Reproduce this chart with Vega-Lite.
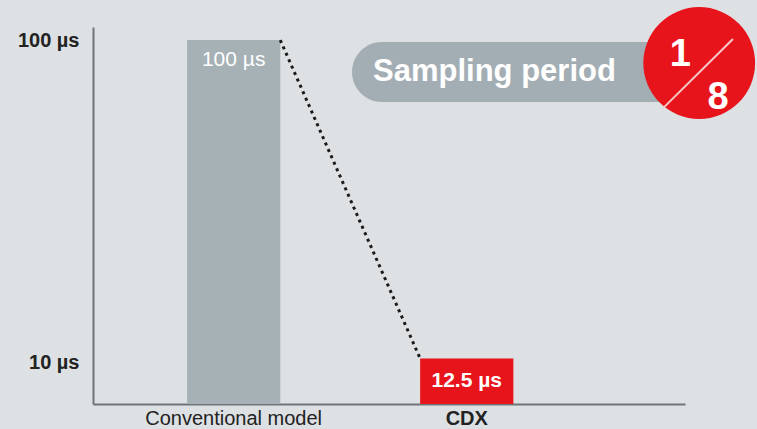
{
  "$schema": "https://vega.github.io/schema/vega-lite/v6.json",
  "width": 592,
  "height": 377,
  "autosize": {"type": "none"},
  "padding": {"left": 93, "top": 27, "right": 72, "bottom": 25},
  "background": "#dde1e3",
  "config": {"view": {"stroke": null}, "font": "Liberation Sans"},
  "datasets": {
    "bars": [
      {"model": "Conventional model", "period": 100, "label": "100 µs"},
      {"model": "CDX", "period": 12.5, "label": "12.5 µs"}
    ],
    "link": [{"from": "Conventional model", "to": "CDX", "start": 100, "end": 12.5}],
    "pill": [{"x0": 4.375, "x1": 10.08, "y0": 83.0, "y1": 99.5, "tx": 4.73, "ty": 91.2, "text": "Sampling period"}],
    "badge": [{"cx": 10.24, "cy": 93.7}],
    "slash": [{"x0": 9.63, "x1": 10.81, "y0": 81.3, "y1": 100.3}],
    "frac": [
      {"n": "1", "x": 9.92, "y": 95.9},
      {"n": "8", "x": 10.56, "y": 84.1}
    ]
  },
  "resolve": {"scale": {"x": "independent"}},
  "layer": [
    {
      "layer": [
        {
          "data": {"name": "bars"},
          "mark": {"type": "bar"},
          "encoding": {
            "x": {
              "field": "model", "type": "nominal", "sort": null,
              "scale": {"domain": ["Conventional model", "CDX"], "paddingInner": 0.6, "paddingOuter": 0.57, "align": 0.354},
              "axis": {
                "title": null, "labelAngle": 0, "ticks": false, "domainColor": "#6f7579", "domainWidth": 2,
                "labelFontSize": 20, "labelColor": "#222222", "labelPadding": 4, "labelLimit": 0,
                "labelFontWeight": {"condition": {"test": "datum.value == 'CDX'", "value": "bold"}, "value": "normal"}
              }
            },
            "y": {
              "field": "period", "type": "quantitative",
              "scale": {"domain": [0, 103.6], "nice": false, "zero": true},
              "axis": {
                "title": null, "ticks": false, "grid": false, "domainColor": "#6f7579", "domainWidth": 2,
                "labelFontSize": 20, "labelFontWeight": "bold", "labelColor": "#222222", "labelPadding": 14,
                "values": [100, 11.5],
                "labelExpr": "datum.value > 50 ? '100 µs' : '10 µs'"
              }
            },
            "color": {
              "field": "model", "type": "nominal",
              "scale": {"domain": ["Conventional model", "CDX"], "range": ["#a6b1b6", "#e8141b"]},
              "legend": null
            }
          }
        },
        {
          "data": {"name": "bars"},
          "transform": [{"filter": "datum.model == 'Conventional model'"}],
          "mark": {"type": "text", "color": "white", "fontSize": 21, "baseline": "middle", "dy": 20},
          "encoding": {
            "x": {"field": "model", "type": "nominal", "sort": null},
            "y": {"field": "period", "type": "quantitative", "scale": {"domain": [0, 103.6], "nice": false}},
            "text": {"field": "label"}
          }
        },
        {
          "data": {"name": "bars"},
          "transform": [{"filter": "datum.model == 'CDX'"}],
          "mark": {"type": "text", "color": "white", "fontSize": 21, "fontWeight": "bold", "baseline": "middle", "dy": 22},
          "encoding": {
            "x": {"field": "model", "type": "nominal", "sort": null},
            "y": {"field": "period", "type": "quantitative", "scale": {"domain": [0, 103.6], "nice": false}},
            "text": {"field": "label"}
          }
        },
        {
          "data": {"name": "link"},
          "mark": {"type": "rule", "color": "#1a1a1a", "strokeWidth": 3, "strokeDash": [3, 4]},
          "encoding": {
            "x": {"field": "from", "type": "nominal", "bandPosition": 1},
            "x2": {"field": "to", "bandPosition": 0},
            "y": {"field": "start", "type": "quantitative", "scale": {"domain": [0, 103.6], "nice": false}},
            "y2": {"field": "end"}
          }
        }
      ]
    },
    {
      "layer": [
        {
          "data": {"name": "pill"},
          "mark": {"type": "bar", "color": "#a3aeb4", "cornerRadius": 30},
          "encoding": {
            "x": {"field": "x0", "type": "quantitative", "scale": {"domain": [0, 10], "nice": false, "zero": false}, "axis": null},
            "x2": {"field": "x1"},
            "y": {"field": "y0", "type": "quantitative", "scale": {"domain": [0, 103.6], "nice": false}},
            "y2": {"field": "y1"}
          }
        },
        {
          "data": {"name": "pill"},
          "mark": {"type": "text", "color": "white", "fontSize": 31, "fontWeight": "bold", "align": "left", "baseline": "middle"},
          "encoding": {
            "x": {"field": "tx", "type": "quantitative", "scale": {"domain": [0, 10], "nice": false, "zero": false}, "axis": null},
            "y": {"field": "ty", "type": "quantitative", "scale": {"domain": [0, 103.6], "nice": false}},
            "text": {"field": "text"}
          }
        },
        {
          "data": {"name": "badge"},
          "mark": {"type": "point", "shape": "circle", "filled": true, "color": "#e8141b", "opacity": 1, "size": 12500},
          "encoding": {
            "x": {"field": "cx", "type": "quantitative", "scale": {"domain": [0, 10], "nice": false, "zero": false}, "axis": null},
            "y": {"field": "cy", "type": "quantitative", "scale": {"domain": [0, 103.6], "nice": false}}
          }
        },
        {
          "data": {"name": "slash"},
          "mark": {"type": "rule", "color": "#f6c9c9", "strokeWidth": 2},
          "encoding": {
            "x": {"field": "x0", "type": "quantitative", "scale": {"domain": [0, 10], "nice": false, "zero": false}, "axis": null},
            "x2": {"field": "x1"},
            "y": {"field": "y0", "type": "quantitative", "scale": {"domain": [0, 103.6], "nice": false}},
            "y2": {"field": "y1"}
          }
        },
        {
          "data": {"name": "frac"},
          "mark": {"type": "text", "color": "white", "fontSize": 38, "fontWeight": "bold", "align": "center", "baseline": "middle"},
          "encoding": {
            "x": {"field": "x", "type": "quantitative", "scale": {"domain": [0, 10], "nice": false, "zero": false}, "axis": null},
            "y": {"field": "y", "type": "quantitative", "scale": {"domain": [0, 103.6], "nice": false}},
            "text": {"field": "n"}
          }
        }
      ]
    }
  ]
}
